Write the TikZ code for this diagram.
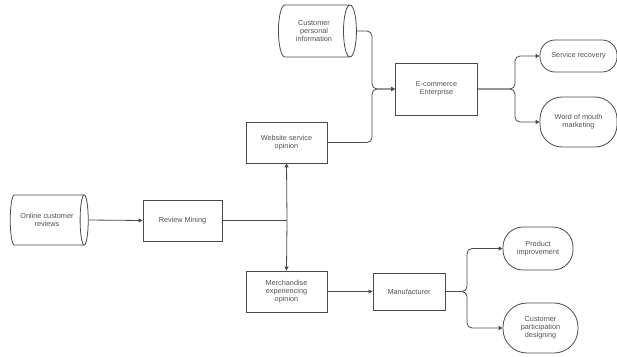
\documentclass[tikz,border=0pt]{standalone}
\usepackage{fontspec}
\setmainfont{Liberation Sans}
\usetikzlibrary{shapes.geometric,arrows.meta}
\definecolor{ln}{HTML}{4A4A4A}
\definecolor{tx}{HTML}{505050}
\tikzset{
  base/.style={draw=ln, line width=0.8pt, text=tx, font=\fontsize{7.3}{8.2}\selectfont, align=center, inner sep=1pt},
  box/.style={base, rectangle, minimum width=#1},
  db/.style={base, cylinder, shape aspect=0.6, minimum width=50pt, minimum height=78pt, inner sep=0pt},
  pill/.style={base, rectangle, rounded corners=15pt},
  conn/.style={draw=ln, line width=0.8pt, -{Triangle[length=4pt,width=4pt]}},
  plain/.style={draw=ln, line width=0.8pt}
}
\begin{document}
\begin{tikzpicture}[x=1pt,y=-1pt]
\useasboundingbox (0,0) rectangle (617,356);
% nodes
\node[db] (ocr) at (47,220) {Online customer\\reviews};
\node[box=79pt, minimum height=41pt] (rm) at (182.5,220.5) {Review Mining};
\node[box=81pt, minimum height=41pt] (wso) at (286.5,142.5) {Website service\\opinion};
\node[box=81pt, minimum height=41pt] (meo) at (286.5,291.5) {Merchandise\\experiencing\\opinion};
\node[db, minimum height=78pt, minimum width=52pt] (cpi) at (314,31) {Customer\\personal\\information};
\node[box=82pt, minimum height=52pt] (ec) at (436.5,89) {E-commerce\\Enterprise};
\node[box=72pt, minimum height=37pt] (man) at (409,291.5) {Manufacturer};
\node[pill, minimum width=77pt, minimum height=32pt] (sr) at (578.5,56) {Service recovery};
\node[pill, rounded corners=22pt, minimum width=77pt, minimum height=50pt] (wom) at (578.5,122) {Word of mouth\\marketing};
\node[pill, rounded corners=20pt, minimum width=70pt, minimum height=43pt] (pi) at (538,248.5) {Product\\improvement};
\node[pill, rounded corners=24pt, minimum width=75pt, minimum height=50pt] (cpd) at (540.5,328) {Customer\\participation\\designing};
% junction coordinates
\coordinate (j1) at (287,220.5);
\coordinate (j2) at (372,89);
\coordinate (j3) at (515,89);
\coordinate (j4) at (467,291.5);
% connectors
\draw[conn] (ocr.east) -- (rm.west);
\draw[plain] (rm.east) -- (j1);
\draw[conn] (j1) -- (wso.south);
\draw[conn] (j1) -- (meo.north);
\draw[conn, rounded corners=5pt] (cpi.east) -| (j2) -- (ec.west);
\draw[conn, rounded corners=5pt] (wso.east) -| (j2) -- (ec.west);
\draw[conn, rounded corners=5pt] (ec.east) -- (j3) |- (sr.west);
\draw[conn, rounded corners=5pt] (ec.east) -- (j3) |- (wom.west);
\draw[conn] (meo.east) -- (man.west);
\draw[conn, rounded corners=5pt] (man.east) -- (j4) |- (pi.west);
\draw[conn, rounded corners=5pt] (man.east) -- (j4) |- (cpd.west);
\end{tikzpicture}
\end{document}
